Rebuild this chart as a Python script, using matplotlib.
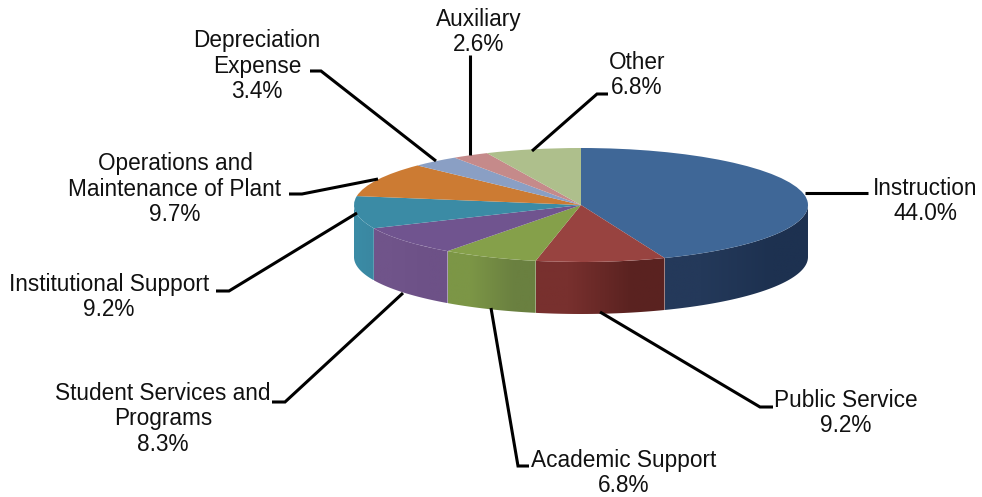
import numpy as np
import matplotlib
matplotlib.use("Agg")
import matplotlib.pyplot as plt
from matplotlib.colors import to_rgb
from matplotlib.patches import Polygon

plt.rcParams['font.family'] = ['Liberation Sans', 'DejaVu Sans']

categories = ["Instruction", "Public Service", "Academic Support",
              "Student Services and\nPrograms", "Institutional Support",
              "Operations and\nMaintenance of Plant", "Depreciation\nExpense",
              "Auxiliary", "Other"]
values = [44.0, 9.2, 6.8, 8.3, 9.2, 9.7, 3.4, 2.6, 6.8]
top_colors = ["#3f6797", "#984340", "#85a04a", "#70548f", "#3b8ba5",
              "#cc7b33", "#8a9fc4", "#c58a8a", "#aebf8c"]
wall_left = ["#24395a", "#78302e", "#7c9646", "#70548a", "#3b8ba5",
             "#cc7b33", "#8a9fc4", "#c58a8a", "#aebf8c"]
wall_right = ["#1d3150", "#5a2220", "#6a8040", "#6d5187", "#3a88a2",
              "#cc7b33", "#8a9fc4", "#c58a8a", "#aebf8c"]

W, H = 982, 497
CX, CY, RX, RY, DEPTH = 581, 205, 227, 57, 52

# label text centres in pixels
label_pos = [(925, 201), (846, 413), (624, 473), (163, 419), (109, 297),
             (175, 189), (257, 66), (479, 32), (637, 75)]
# leader lines in pixels
leaders = [
    [(805, 193), (868, 193)],
    [(600, 312), (760, 407), (773, 407)],
    [(491, 308), (518, 466), (529, 466)],
    [(403, 293), (285, 402), (272, 402)],
    [(357, 213), (229, 291), (216, 291)],
    [(378, 179), (302, 194), (289, 194)],
    [(436, 161), (321, 71), (310, 71)],
    [(470, 155), (470, 55)],
    [(532, 151), (597, 94), (608, 94)],
]

fig = plt.figure(figsize=(W / 100, H / 100), dpi=100, facecolor="white")
ax = fig.add_axes([0, 0, 1, 1])

frac = np.array(values) / sum(values)
edges = 90 - 360 * np.concatenate([[0], np.cumsum(frac)])
dz = DEPTH / RY

# side walls
for i in range(len(values)):
    th = np.radians(np.linspace(edges[i], edges[i + 1], 120))
    xs, ys = np.cos(th), np.sin(th)
    front = ys <= 0
    if not front.any():
        continue
    xf, yf = xs[front], ys[front]
    poly = np.vstack([np.c_[xf, yf], np.c_[xf, yf - dz][::-1]])
    patch = Polygon(poly, closed=True, facecolor="none", edgecolor="none")
    ax.add_patch(patch)
    grad = np.array([[to_rgb(wall_left[i]), to_rgb(wall_right[i])]])
    im = ax.imshow(grad, extent=(xf.min(), xf.max(), (yf - dz).min(), yf.max()),
                   aspect="auto", interpolation="bilinear", zorder=1)
    im.set_clip_path(patch)

# top surface
ax.pie(values, colors=top_colors, startangle=90, counterclock=False,
       radius=1, center=(0, 0), wedgeprops=dict(linewidth=0, zorder=2))
ax.set_aspect("auto")
ax.set_xlim((0 - CX) / RX, (W - CX) / RX)
ax.set_ylim((CY - H) / RY, CY / RY)
ax.axis("off")

# overlay in pixel coordinates
ov = fig.add_axes([0, 0, 1, 1], facecolor="none")
ov.set_xlim(0, W)
ov.set_ylim(H, 0)
ov.axis("off")
for pts in leaders:
    p = np.array(pts)
    ov.plot(p[:, 0], p[:, 1], color="black", lw=2.2, solid_joinstyle="miter",
            solid_capstyle="butt")
for name, v, (x, y) in zip(categories, values, label_pos):
    ov.text(x, y, f"{name}\n{v:.1f}%", ha="center", va="center",
            fontsize=16.3, color="#111111", linespacing=1.16)

fig.savefig("out.png", dpi=100)
